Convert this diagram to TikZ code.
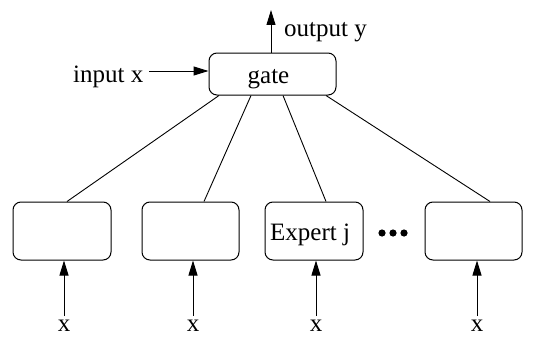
\documentclass[tikz,border=0pt]{standalone}
\usepackage{fontspec}
\setmainfont{Liberation Serif}
\usetikzlibrary{arrows.meta}
\begin{document}
\begin{tikzpicture}[x=1pt,y=-1pt,
  box/.style={draw,rounded corners=8pt,line width=1pt,inner sep=0pt},
  lab/.style={inner sep=0pt,font=\fontsize{25}{30}\selectfont},
  arr/.style={line width=1pt,-{Triangle[length=15pt,width=9pt]}},
  conn/.style={line width=0.9pt}]
\useasboundingbox (0,0) rectangle (537,337);
\node[box,minimum width=127pt,minimum height=42pt] (gate) at (272.5,74) {};
\node[box,minimum width=98pt,minimum height=58pt] (b1) at (62,231) {};
\node[box,minimum width=97pt,minimum height=58pt] (b2) at (190.5,231) {};
\node[box,minimum width=98pt,minimum height=58pt] (b3) at (314,231) {};
\node[box,minimum width=97pt,minimum height=58pt] (b4) at (473.5,231) {};
\node[lab,anchor=base] (tgate) at (268.5,83) {gate};
\node[lab,anchor=base west] (texp) at (270,240) {Expert j};
\node[lab,anchor=base west] (tin) at (73,82) {input x};
\node[lab,anchor=base west] (tout) at (284,37) {output y};
\coordinate (top) at (271,10);
\node[lab,anchor=base] (x1) at (64,331) {x};
\node[lab,anchor=base] (x2) at (193,331) {x};
\node[lab,anchor=base] (x3) at (316,331) {x};
\node[lab,anchor=base] (x4) at (477,331) {x};
\foreach \i in {382,393,404} \fill (\i,233) circle (3.6pt);
% gate arrows
\draw[arr] (149,71) -- (gate.west |- 0,71);
\draw[arr] (gate.north -| top) -- (top);
% connectors
\draw[conn] ([xshift=-53.5pt]gate.south) -- ([xshift=5pt]b1.north);
\draw[conn] ([xshift=-21.5pt]gate.south) -- ([xshift=13.5pt]b2.north);
\draw[conn] ([xshift=10.5pt]gate.south) -- ([xshift=12pt]b3.north);
\draw[conn] ([xshift=53.5pt]gate.south) -- ([xshift=16.5pt]b4.north);
% inputs
\foreach \k in {1,2,3,4}
  \draw[arr] (x\k.north |- 0,316) -- (x\k.north |- b\k.south);
\end{tikzpicture}
\end{document}
